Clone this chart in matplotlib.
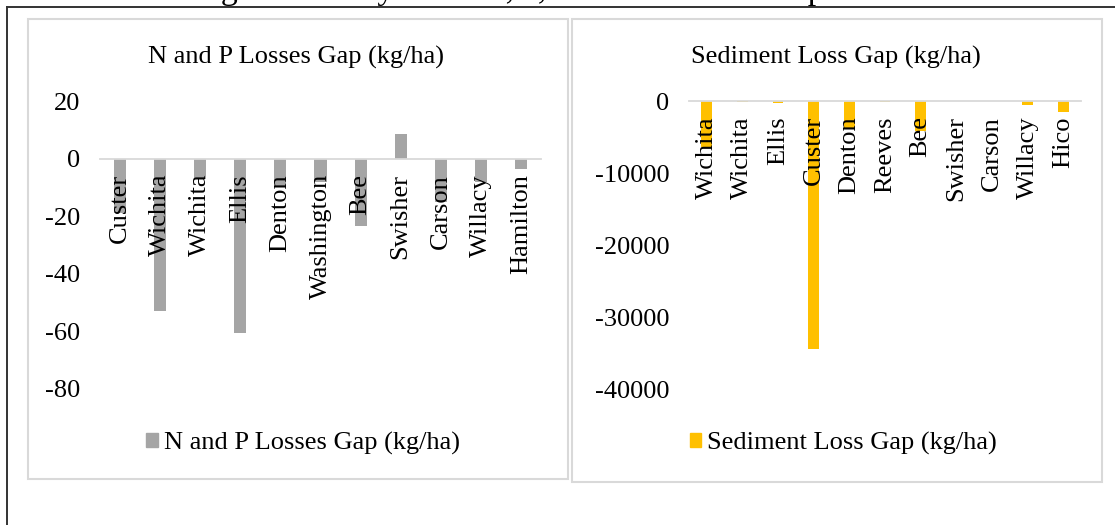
import matplotlib
matplotlib.use("Agg")
import matplotlib.pyplot as plt
from matplotlib.patches import Rectangle, Patch
from matplotlib.lines import Line2D

plt.rcParams['font.family'] = ['Liberation Serif', 'DejaVu Serif']

# N and P losses gap (kg/ha)
np_sites = ["Custer", "Wichita", "Wichita", "Ellis", "Denton", "Washington",
            "Bee", "Swisher", "Carson", "Willacy", "Hamilton"]
np_gap = [-19, -53, -7, -60.5, -10, -8, -23.5, 8.5, -15, -8, -3.5]

# Sediment loss gap (kg/ha)
sed_sites = ["Wichita", "Wichita", "Ellis", "Custer", "Denton", "Reeves",
             "Bee", "Swisher", "Carson", "Willacy", "Hico"]
sed_gap = [-6400, -100, -300, -34400, -3900, -100, -4100, 0, 0, -500, -1500]

np_ticks = [20, 0, -20, -40, -60, -80]
sed_ticks = [0, -10000, -20000, -30000, -40000]

W, H = 1115, 525
FS = 19
fig = plt.figure(figsize=(W / 100, H / 100), dpi=100)


def fx(px):
    return px / W


def fy(py):
    return 1 - py / H


# outer frame of the page + cut-off caption line above it
fig.add_artist(Line2D([fx(7), 1], [fy(7), fy(7)], color="#333333", lw=1.4))
fig.add_artist(Line2D([fx(7), fx(7)], [fy(7), 0], color="#333333", lw=1.4))
fig.text(fx(-13), fy(-1), "ation for matching ecoli analyses of N, P, and Sediment comparisons.",
         fontsize=24.5, va="baseline", ha="left")

# panel borders
fig.add_artist(Rectangle((fx(28), fy(479)), fx(568) - fx(28), fy(19) - fy(479),
                         transform=fig.transFigure, fill=False, ec="#D9D9D9", lw=1.5))
fig.add_artist(Rectangle((fx(572), fy(482)), fx(1102) - fx(572), fy(19) - fy(482),
                         transform=fig.transFigure, fill=False, ec="#D9D9D9", lw=1.5))


def panel(rect, sites, vals, ticks, color, title, title_x, leg_x):
    ax = fig.add_axes(rect)
    x = list(range(len(sites)))
    ax.bar(x, vals, width=0.3, color=color, zorder=1)
    ax.set_xlim(-0.5, len(sites) - 0.5)
    ax.set_ylim(min(ticks), max(ticks))
    ax.set_yticks(ticks)
    ax.set_yticklabels([str(t) for t in ticks], fontsize=FS)
    ax.tick_params(axis="y", length=0, pad=14)
    for s in ["top", "right", "left"]:
        ax.spines[s].set_visible(False)
    ax.spines["bottom"].set_position(("data", 0))
    ax.spines["bottom"].set_color("#D9D9D9")
    ax.spines["bottom"].set_linewidth(1.3)
    ax.set_xticks(x)
    ax.set_xticklabels(sites, rotation=90, fontsize=FS, va="top")
    ax.tick_params(axis="x", length=0, pad=11)
    ax.patch.set_alpha(0)
    fig.text(fx(title_x), fy(57), title, fontsize=FS, ha="center", va="center")
    fig.legend(handles=[Patch(color=color, label=title)], loc="center",
               bbox_to_anchor=(fx(leg_x), fy(443)), frameon=False, fontsize=FS,
               handlelength=0.45, handleheight=0.45, handletextpad=0.2)
    return ax


top, bot = 101, 389
panel([fx(100), fy(bot), fx(541) - fx(100), fy(top) - fy(bot)],
      np_sites, np_gap, np_ticks, "#A5A5A5", "N and P Losses Gap (kg/ha)", 296, 303)
panel([fx(689), fy(bot), fx(1081) - fx(689), fy(top) - fy(bot)],
      sed_sites, sed_gap, sed_ticks, "#FFC000", "Sediment Loss Gap (kg/ha)", 836, 843)

fig.savefig("out.png", dpi=100)
